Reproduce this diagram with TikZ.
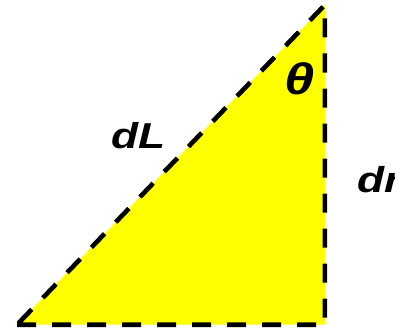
\documentclass[tikz,border=0pt]{standalone}
\usepackage{fontspec}
\setmainfont{Liberation Sans}
\definecolor{yel}{RGB}{255,255,0}
\begin{document}
\begin{tikzpicture}[x=1pt,y=1pt,
  edge/.style={line width=4.6pt, dash pattern=on 19pt off 16pt, line cap=butt, line join=miter},
  lbl/.style={inner sep=0pt, xscale=1.23, font=\fontsize{36}{40}\selectfont\bfseries\itshape}]
\clip (0,0) rectangle (395,330);
\useasboundingbox (0,0) rectangle (395,330);
\coordinate (A) at (17,5.3);
\coordinate (B) at (324.8,5.3);
\coordinate (C) at (324.8,325);
\fill[yel] (A) -- (B) -- (C) -- cycle;
\draw[edge] (A) -- (B) -- (C) -- cycle;
\node[lbl, anchor=base west] (dL) at (111,182) {dL};
\node[lbl, anchor=base west, font=\fontsize{44}{48}\selectfont\bfseries\itshape] (th) at (284,236) {θ};
\node[lbl, anchor=base west] (dr) at (357,138) {dr};
\end{tikzpicture}
\end{document}
